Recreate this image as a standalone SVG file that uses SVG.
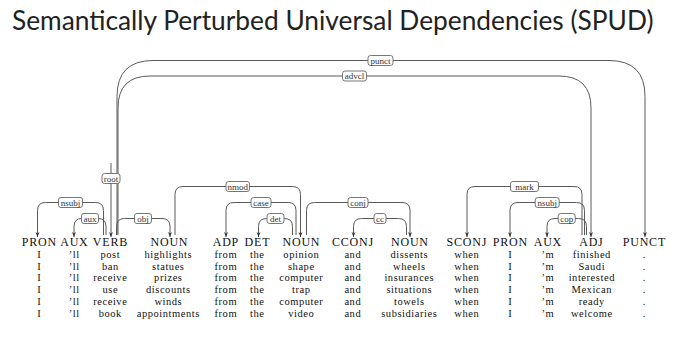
<svg xmlns="http://www.w3.org/2000/svg" width="680" height="344" viewBox="0 0 680 344">
<style>
.title{font-family:Lato,"Open Sans","Liberation Sans",sans-serif;font-size:26.3px;fill:#222}
.pos{font-family:"Liberation Serif","DejaVu Serif",serif;font-size:12px;letter-spacing:0.8px;fill:#111;text-anchor:middle}
.w{font-family:"Liberation Serif","DejaVu Serif",serif;font-size:10.5px;letter-spacing:0.55px;fill:#111;text-anchor:middle}
.arc{fill:none;stroke:#5a5a5a;stroke-width:1}
.lbox{fill:#fff;stroke:#666;stroke-width:0.9}
.lt{font-family:"Liberation Serif","DejaVu Serif",serif;font-size:9px;fill:#333;text-anchor:middle}
</style>
<defs>
<marker id="ah" viewBox="0 0 10 10" refX="10" refY="5" markerWidth="5" markerHeight="5" markerUnits="userSpaceOnUse" orient="auto">
<path d="M0,1 L10,5 L0,9 L3,5 z" fill="#333"/>
</marker>
</defs>
<rect width="680" height="344" fill="#fff"/>
<text class="title" x="12" y="30">Semantically Perturbed Universal Dependencies (SPUD)</text>

<g id="connectors">
<path class="arc" d="M117,235 V96.5 Q117,60.5 153,60.5 H609 Q645,60.5 645,96.5 V237" marker-end="url(#ah)"/>
<path class="arc" d="M118,235 V108 Q118,76 150,76 H559 Q591,76 591,108 V237" marker-end="url(#ah)"/>
<path class="arc" d="M111,163 V237" marker-end="url(#ah)"/>
<path class="arc" d="M103.5,235 V210.5 Q103.5,202.5 95.5,202.5 H45.5 Q37.5,202.5 37.5,210.5 V237" marker-end="url(#ah)"/>
<path class="arc" d="M106,235 V226.5 Q106,218.5 98,218.5 H82 Q74,218.5 74,226.5 V237" marker-end="url(#ah)"/>
<path class="arc" d="M116.5,235 V226.5 Q116.5,218.5 124.5,218.5 H162 Q170,218.5 170,226.5 V237" marker-end="url(#ah)"/>
<path class="arc" d="M175,235 V194.5 Q175,186.5 183,186.5 H292.5 Q300.5,186.5 300.5,194.5 V237" marker-end="url(#ah)"/>
<path class="arc" d="M296,235 V210.5 Q296,202.5 288,202.5 H234 Q226,202.5 226,210.5 V237" marker-end="url(#ah)"/>
<path class="arc" d="M292.5,235 V226.5 Q292.5,218.5 284.5,218.5 H266.5 Q258.5,218.5 258.5,226.5 V237" marker-end="url(#ah)"/>
<path class="arc" d="M306.5,235 V210.5 Q306.5,202.5 314.5,202.5 H402 Q410,202.5 410,210.5 V237" marker-end="url(#ah)"/>
<path class="arc" d="M406.5,235 V226.5 Q406.5,218.5 398.5,218.5 H361.5 Q353.5,218.5 353.5,226.5 V237" marker-end="url(#ah)"/>
<path class="arc" d="M582,235 V194.5 Q582,186.5 574,186.5 H475 Q467,186.5 467,194.5 V237" marker-end="url(#ah)"/>
<path class="arc" d="M584.5,235 V210.5 Q584.5,202.5 576.5,202.5 H518 Q510,202.5 510,210.5 V237" marker-end="url(#ah)"/>
<path class="arc" d="M586.5,235 V226.5 Q586.5,218.5 578.5,218.5 H555 Q547,218.5 547,226.5 V237" marker-end="url(#ah)"/>

<g id="labels">
<rect class="lbox" x="368" y="55.5" width="25" height="10" rx="2.5"/><text class="lt" x="380.5" y="63.5">punct</text>
<rect class="lbox" x="342.5" y="71" width="24" height="10" rx="2.5"/><text class="lt" x="354.5" y="79">advcl</text>
<rect class="lbox" x="102" y="173.5" width="18" height="10" rx="2.5"/><text class="lt" x="111" y="181.5">root</text>
<rect class="lbox" x="58.5" y="197.5" width="24" height="10" rx="2.5"/><text class="lt" x="70.5" y="205.5">nsubj</text>
<rect class="lbox" x="81.5" y="213.5" width="17" height="10" rx="2.5"/><text class="lt" x="90" y="221.5">aux</text>
<rect class="lbox" x="134.5" y="213.5" width="17" height="10" rx="2.5"/><text class="lt" x="143" y="221.5">obj</text>
<rect class="lbox" x="226" y="181.5" width="23.5" height="10" rx="2.5"/><text class="lt" x="237.8" y="189.5">nmod</text>
<rect class="lbox" x="251" y="197.5" width="20" height="10" rx="2.5"/><text class="lt" x="261" y="205.5">case</text>
<rect class="lbox" x="267" y="213.5" width="17" height="10" rx="2.5"/><text class="lt" x="275.5" y="221.5">det</text>
<rect class="lbox" x="348" y="197.5" width="20" height="10" rx="2.5"/><text class="lt" x="358" y="205.5">conj</text>
<rect class="lbox" x="374" y="213.5" width="12" height="10" rx="2.5"/><text class="lt" x="380" y="221.5">cc</text>
<rect class="lbox" x="510.5" y="181.5" width="28" height="10" rx="2.5"/><text class="lt" x="524.5" y="189.5">mark</text>
<rect class="lbox" x="535.2" y="197.5" width="24" height="10" rx="2.5"/><text class="lt" x="547.2" y="205.5">nsubj</text>
<rect class="lbox" x="558.2" y="213.5" width="17" height="10" rx="2.5"/><text class="lt" x="566.7" y="221.5">cop</text>
</g>
</g>

<g id="n1"><text class="pos" x="39.4" y="246">PRON</text><text class="w" x="39.3" y="258">I</text><text class="w" x="39.3" y="269.7">I</text><text class="w" x="39.3" y="281.4">I</text><text class="w" x="39.3" y="293.1">I</text><text class="w" x="39.3" y="304.8">I</text><text class="w" x="39.3" y="316.5">I</text></g>
<g id="n2"><text class="pos" x="74.4" y="246">AUX</text><text class="w" x="74.3" y="258">’ll</text><text class="w" x="74.3" y="269.7">’ll</text><text class="w" x="74.3" y="281.4">’ll</text><text class="w" x="74.3" y="293.1">’ll</text><text class="w" x="74.3" y="304.8">’ll</text><text class="w" x="74.3" y="316.5">’ll</text></g>
<g id="n3"><text class="pos" x="110.4" y="246">VERB</text><text class="w" x="110.3" y="258">post</text><text class="w" x="110.3" y="269.7">ban</text><text class="w" x="110.3" y="281.4">receive</text><text class="w" x="110.3" y="293.1">use</text><text class="w" x="110.3" y="304.8">receive</text><text class="w" x="110.3" y="316.5">book</text></g>
<g id="n4"><text class="pos" x="169.4" y="246">NOUN</text><text class="w" x="168.3" y="258">highlights</text><text class="w" x="168.3" y="269.7">statues</text><text class="w" x="168.3" y="281.4">prizes</text><text class="w" x="168.3" y="293.1">discounts</text><text class="w" x="168.3" y="304.8">winds</text><text class="w" x="168.3" y="316.5">appointments</text></g>
<g id="n5"><text class="pos" x="225.9" y="246">ADP</text><text class="w" x="225.8" y="258">from</text><text class="w" x="225.8" y="269.7">from</text><text class="w" x="225.8" y="281.4">from</text><text class="w" x="225.8" y="293.1">from</text><text class="w" x="225.8" y="304.8">from</text><text class="w" x="225.8" y="316.5">from</text></g>
<g id="n6"><text class="pos" x="257.4" y="246">DET</text><text class="w" x="257.3" y="258">the</text><text class="w" x="257.3" y="269.7">the</text><text class="w" x="257.3" y="281.4">the</text><text class="w" x="257.3" y="293.1">the</text><text class="w" x="257.3" y="304.8">the</text><text class="w" x="257.3" y="316.5">the</text></g>
<g id="n7"><text class="pos" x="301.4" y="246">NOUN</text><text class="w" x="301.3" y="258">opinion</text><text class="w" x="301.3" y="269.7">shape</text><text class="w" x="301.3" y="281.4">computer</text><text class="w" x="301.3" y="293.1">trap</text><text class="w" x="301.3" y="304.8">computer</text><text class="w" x="301.3" y="316.5">video</text></g>
<g id="n8"><text class="pos" x="352.9" y="246">CCONJ</text><text class="w" x="352.8" y="258">and</text><text class="w" x="352.8" y="269.7">and</text><text class="w" x="352.8" y="281.4">and</text><text class="w" x="352.8" y="293.1">and</text><text class="w" x="352.8" y="304.8">and</text><text class="w" x="352.8" y="316.5">and</text></g>
<g id="n9"><text class="pos" x="409.9" y="246">NOUN</text><text class="w" x="409.3" y="258">dissents</text><text class="w" x="409.3" y="269.7">wheels</text><text class="w" x="409.3" y="281.4">insurances</text><text class="w" x="409.3" y="293.1">situations</text><text class="w" x="409.3" y="304.8">towels</text><text class="w" x="409.3" y="316.5">subsidiaries</text></g>
<g id="n10"><text class="pos" x="466.9" y="246">SCONJ</text><text class="w" x="466.8" y="258">when</text><text class="w" x="466.8" y="269.7">when</text><text class="w" x="466.8" y="281.4">when</text><text class="w" x="466.8" y="293.1">when</text><text class="w" x="466.8" y="304.8">when</text><text class="w" x="466.8" y="316.5">when</text></g>
<g id="n11"><text class="pos" x="510.4" y="246">PRON</text><text class="w" x="510.3" y="258">I</text><text class="w" x="510.3" y="269.7">I</text><text class="w" x="510.3" y="281.4">I</text><text class="w" x="510.3" y="293.1">I</text><text class="w" x="510.3" y="304.8">I</text><text class="w" x="510.3" y="316.5">I</text></g>
<g id="n12"><text class="pos" x="547.9" y="246">AUX</text><text class="w" x="547.8" y="258">’m</text><text class="w" x="547.8" y="269.7">’m</text><text class="w" x="547.8" y="281.4">’m</text><text class="w" x="547.8" y="293.1">’m</text><text class="w" x="547.8" y="304.8">’m</text><text class="w" x="547.8" y="316.5">’m</text></g>
<g id="n13"><text class="pos" x="591.4" y="246">ADJ</text><text class="w" x="591.8" y="258">finished</text><text class="w" x="591.8" y="269.7">Saudi</text><text class="w" x="591.8" y="281.4">interested</text><text class="w" x="591.8" y="293.1">Mexican</text><text class="w" x="591.8" y="304.8">ready</text><text class="w" x="591.8" y="316.5">welcome</text></g>
<g id="n14"><text class="pos" x="644.4" y="246">PUNCT</text><text class="w" x="644.3" y="258">.</text><text class="w" x="644.3" y="269.7">.</text><text class="w" x="644.3" y="281.4">.</text><text class="w" x="644.3" y="293.1">.</text><text class="w" x="644.3" y="304.8">.</text><text class="w" x="644.3" y="316.5">.</text></g>
</svg>
